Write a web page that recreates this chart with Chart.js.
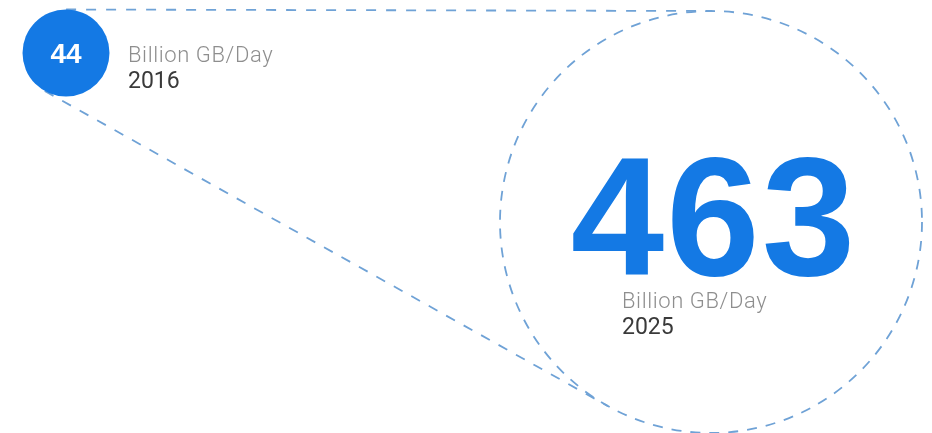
<!DOCTYPE html>
<html><head><meta charset="utf-8">
<script src="https://cdn.jsdelivr.net/npm/chart.js@4.4.1/dist/chart.umd.min.js"></script>
<style>html,body{margin:0;padding:0;background:#fff;overflow:hidden;} canvas{display:block;}</style>
</head><body>
<canvas id="c" width="932" height="433"></canvas>
<script>
// ---- data ----
const years = ['2016', '2025'];
const values = [44, 463];
const unitLabels = ['Billion GB/Day', 'Billion GB/Day'];

// ---- layout (canvas units) ----
const LAYOUT = {
  centers: [{x: 66, y: 53}, {x: 711, y: 222}],
  radii: [43.5, 211]
};
const BLUE = '#1479e4';
const DASH = '#6fa2d6';

function tangents(c1, r1, c2, r2) {
  const dx = c2.x - c1.x, dy = c2.y - c1.y;
  const d = Math.hypot(dx, dy);
  const th = Math.atan2(dy, dx);
  const a = Math.acos((r1 - r2) / d);
  return [th - a, th + a].map(ang => {
    const nx = Math.cos(ang), ny = Math.sin(ang);
    return [{x: c1.x + r1 * nx, y: c1.y + r1 * ny}, {x: c2.x + r2 * nx, y: c2.y + r2 * ny}];
  });
}
const tLines = tangents(LAYOUT.centers[0], LAYOUT.radii[0], LAYOUT.centers[1], LAYOUT.radii[1]);

const dashPlugin = {
  id: 'dashCircle',
  beforeDatasetDraw(chart, args) { if (args.index === 1) chart.ctx.setLineDash([10, 9]); },
  afterDatasetDraw(chart, args) { if (args.index === 1) chart.ctx.setLineDash([]); }
};

function drawLabels(ctx, x, y, unit, year) {
  ctx.textAlign = 'left';
  ctx.fillStyle = '#8e8e8e';
  ctx.font = '300 22px Roboto, "Liberation Sans", sans-serif';
  ctx.letterSpacing = '0.6px';
  ctx.fillText(unit, x, y);
  ctx.letterSpacing = '0px';
  ctx.fillStyle = '#3a3a3a';
  ctx.font = '400 23px Roboto, "Liberation Sans", sans-serif';
  ctx.fillText(year, x, y + 26);
}

const labelPlugin = {
  id: 'labels',
  afterDatasetsDraw(chart) {
    const ctx = chart.ctx;
    const p0 = chart.getDatasetMeta(0).data[0];
    const p1 = chart.getDatasetMeta(1).data[0];
    ctx.save();
    ctx.textBaseline = 'alphabetic';
    // small value
    ctx.fillStyle = '#ffffff';
    ctx.textAlign = 'center';
    ctx.font = 'bold 28px "Liberation Sans", Arial, sans-serif';
    ctx.fillText(String(values[0]), p0.x, p0.y + 10);
    drawLabels(ctx, p0.x + 62, p0.y + 9, unitLabels[0], years[0]);
    // big value
    ctx.textAlign = 'center';
    ctx.fillStyle = BLUE;
    ctx.font = 'bold 168px "Liberation Sans", Arial, sans-serif';
    ctx.letterSpacing = '2px';
    ctx.fillText(String(values[1]), p1.x + 3, p1.y + 53);
    ctx.letterSpacing = '0px';
    drawLabels(ctx, p1.x - 89, p1.y + 86, unitLabels[1], years[1]);
    ctx.restore();
  }
};

const lineDs = pts => ({
  type: 'line', data: pts, borderColor: DASH, borderWidth: 1.8,
  borderDash: [10, 10], pointRadius: 0, fill: false, clip: false, tension: 0
});

new Chart(document.getElementById('c'), {
  type: 'bubble',
  data: {
    datasets: [
      { label: years[0], data: [{x: LAYOUT.centers[0].x, y: LAYOUT.centers[0].y, r: LAYOUT.radii[0], v: values[0]}],
        backgroundColor: BLUE, borderWidth: 0, clip: false },
      { label: years[1], data: [{x: LAYOUT.centers[1].x, y: LAYOUT.centers[1].y, r: LAYOUT.radii[1], v: values[1]}],
        backgroundColor: 'rgba(0,0,0,0)', borderColor: DASH, borderWidth: 1.8, clip: false },
      lineDs(tLines[0]),
      lineDs(tLines[1])
    ]
  },
  options: {
    responsive: false,
    animation: false,
    events: [],
    layout: { padding: 0, autoPadding: false },
    plugins: { legend: { display: false }, tooltip: { enabled: false } },
    scales: {
      x: { type: 'linear', min: 0, max: 932, display: false },
      y: { type: 'linear', min: 0, max: 433, reverse: true, display: false }
    }
  },
  plugins: [dashPlugin, labelPlugin]
});
</script>
</body></html>
